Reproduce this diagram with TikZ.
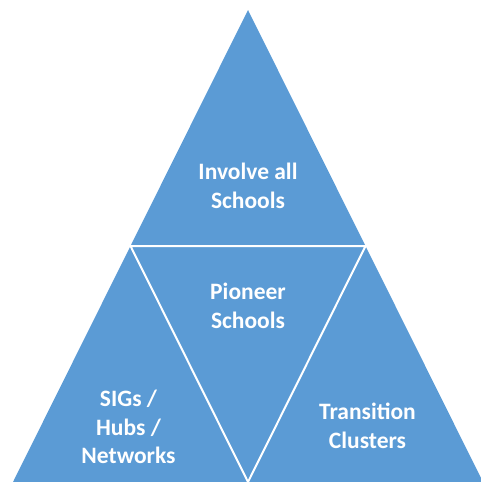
\documentclass[tikz,border=0pt]{standalone}
\usepackage{fontspec}
\setmainfont{Carlito}
\usepackage{xcolor}
\usetikzlibrary{positioning}
\definecolor{tierblue}{HTML}{5B9BD5}

\begin{document}
\begin{tikzpicture}[
    x=1pt, y=-1pt,
    tier/.style={fill=tierblue, draw=none},
    split/.style={draw=white, line width=2pt, line join=round},
    label/.style={text=white, font=\bfseries\fontsize{23.5}{28.5}\selectfont, align=center, inner sep=0pt}
]
    \useasboundingbox (0,0) rectangle (481,482);
    \clip (0,0) rectangle (481,482);

    \coordinate (apex) at (248,10);
    \coordinate (baseL) at (13,482);
    \coordinate (baseR) at (483,482);
    \coordinate (midL) at (130.5,246);
    \coordinate (midR) at (365.5,246);
    \coordinate (baseM) at (248,482);

    \fill[tier] (apex) -- (baseL) -- (baseR) -- cycle;
    \draw[split] (midL) -- (midR) -- (baseM) -- cycle;

    \node[label] (involve) at (248,186) {Involve all\\Schools};
    \node[label] (pioneer) at (248,306) {Pioneer\\Schools};
    \node[label] (sigs) at (128.5,427) {SIGs /\\Hubs /\\Networks};
    \node[label] (transition) at (367.5,426) {Transition\\Clusters};
\end{tikzpicture}
\end{document}
